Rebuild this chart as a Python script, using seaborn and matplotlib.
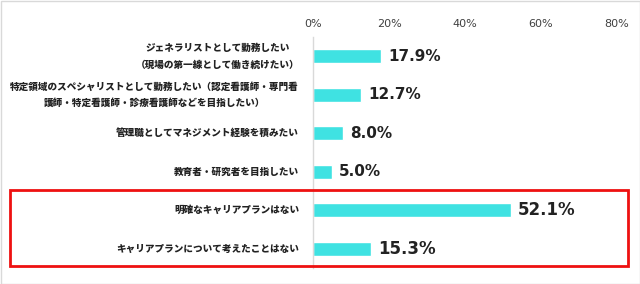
import matplotlib
matplotlib.use("Agg")
import matplotlib.pyplot as plt
from matplotlib.patches import Rectangle
import seaborn as sns

categories = [
    "ジェネラリストとして勤務したい\n（現場の第一線として働き続けたい）",
    "特定領域のスペシャリストとして勤務したい（認定看護師・専門看\n護師・特定看護師・診療看護師などを目指したい）",
    "管理職としてマネジメント経験を積みたい",
    "教育者・研究者を目指したい",
    "明確なキャリアプランはない",
    "キャリアプランについて考えたことはない",
]
values = [17.9, 12.7, 8.0, 5.0, 52.1, 15.3]
value_labels = ["17.9%", "12.7%", "8.0%", "5.0%", "52.1%", "15.3%"]
xticks = [0, 20, 40, 60, 80]
xtick_labels = ["0%", "20%", "40%", "60%", "80%"]

sns.set_style("white")
plt.rcParams["font.family"] = ["Noto Sans CJK JP", "DejaVu Sans"]

fig = plt.figure(figsize=(6.4, 2.84), dpi=100)
ax = fig.add_axes([313 / 640, 1 - 268 / 284, 304 / 640, (268 - 37) / 284])

sns.barplot(x=values, y=categories, orient="h", color="#3fe2e2",
            width=0.36, saturation=1, ax=ax)

ax.set_xlim(0, 80)
ax.set_ylim(5.5, -0.5)
ax.set_xticks(xticks)
ax.set_xticklabels(xtick_labels, fontsize=8, color="#404040", family="DejaVu Sans")
ax.xaxis.tick_top()
ax.tick_params(axis="x", length=0, pad=6)
ax.tick_params(axis="y", length=0, pad=10)
for lab in ax.get_yticklabels():
    lab.set_fontsize(6.9)
    lab.set_fontweight(900)
    lab.set_color("#222222")
    lab.set_multialignment("center")
    lab.set_verticalalignment("center")
    lab.set_linespacing(1.8)
ax.set_xlabel("")
ax.set_ylabel("")

for s in ["top", "right", "bottom"]:
    ax.spines[s].set_visible(False)
ax.spines["left"].set_color("#d9d9d9")
ax.spines["left"].set_linewidth(1)

for i, (v, t) in enumerate(zip(values, value_labels)):
    size = 12 if i >= 4 else 11
    ax.text(v + 1.8, i, t, va="center", ha="left", fontsize=size,
            fontweight="bold", color="#222222", family="DejaVu Sans")

# highlight box around the last two rows
fig.patches.append(Rectangle((10 / 640, 1 - 266 / 284), 618 / 640, 76 / 284,
                             transform=fig.transFigure, fill=False,
                             edgecolor="#ee1111", linewidth=2))
# outer border
fig.patches.append(Rectangle((0.5 / 640, 0.5 / 284), 639 / 640, 283 / 284,
                             transform=fig.transFigure, fill=False,
                             edgecolor="#d9d9d9", linewidth=1))

fig.savefig("out.png", dpi=100)
